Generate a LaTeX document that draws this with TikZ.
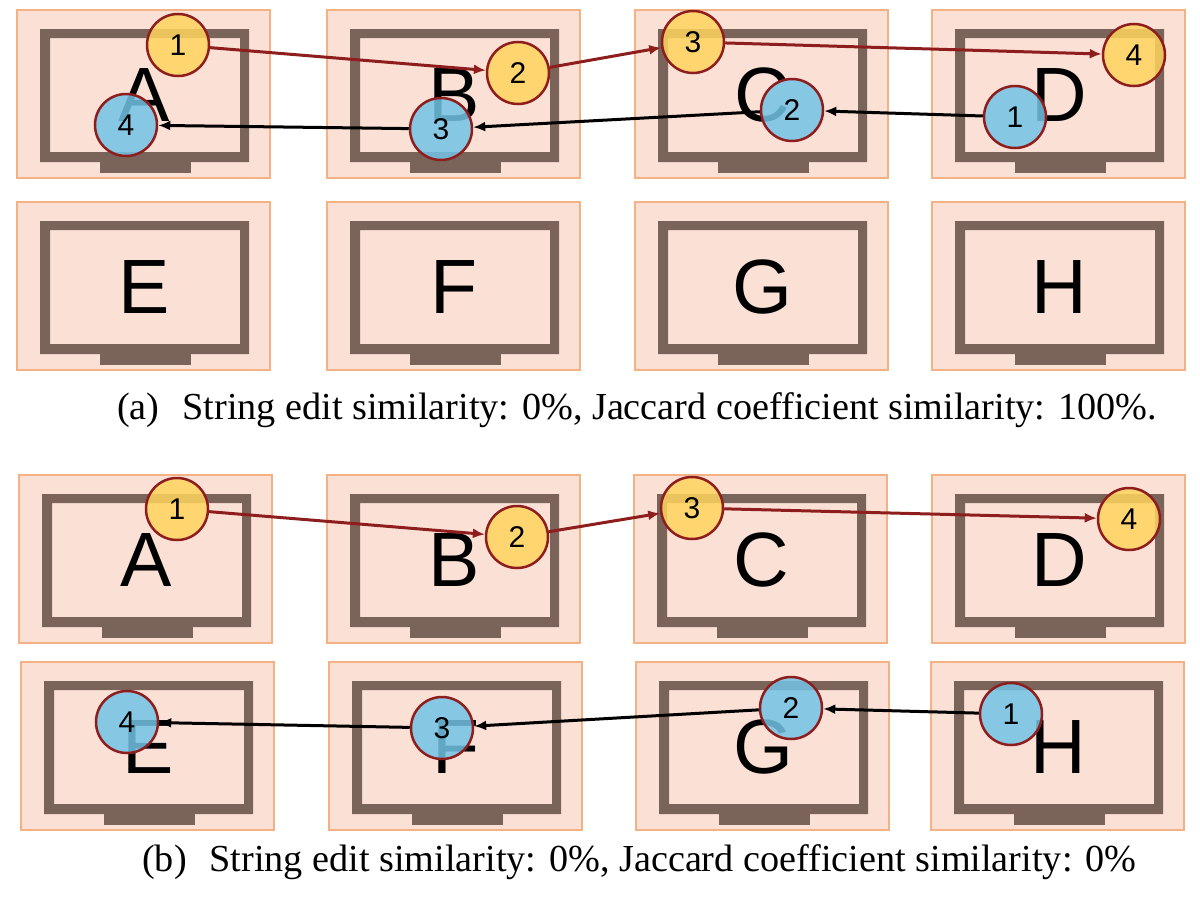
\documentclass[tikz,border=0pt]{standalone}
\usepackage{fontspec}
\setmainfont{Liberation Serif}
\newfontfamily\sansf{Liberation Sans}
\usetikzlibrary{arrows.meta}
\definecolor{panelfill}{HTML}{FBE0D6}
\definecolor{panelline}{HTML}{F4B183}
\definecolor{monitor}{HTML}{7A6358}
\definecolor{gold}{HTML}{FFD45E}
\definecolor{sky}{HTML}{72C4E6}
\definecolor{rim}{HTML}{8E1E1E}
\tikzset{
  panel/.style={fill=panelfill, draw=panelline, line width=1.5pt},
  letter/.style={font=\sansf\fontsize{77}{80}\selectfont, inner sep=0pt},
  visit/.style={circle, minimum size=62pt, inner sep=0pt, draw=rim, line width=2.5pt,
    fill opacity=0.85, text opacity=1, font=\sansf\fontsize{30}{32}\selectfont},
  fwd/.style={visit, fill=gold},
  back/.style={visit, fill=sky},
  redarr/.style={draw=rim, line width=3pt, -{Latex[length=12pt,width=10pt]}},
  blkarr/.style={draw=black, line width=3pt, -{Latex[length=12pt,width=10pt]}},
  caption/.style={font=\fontsize{38.2}{42}\selectfont, anchor=base west, inner sep=0pt}
}
\begin{document}
\begin{tikzpicture}[x=1pt, y=-1pt]
\useasboundingbox (0,0) rectangle (1200,897);
% panels with monitors
\foreach \px/\py/\l/\n in {17/10/A/pA, 327/10/B/pB, 635/10/C/pC, 932/10/D/pD,
                           17/202/E/pE, 327/202/F/pF, 635/202/G/pG, 932/202/H/pH,
                           19/475/A/qA, 327/475/B/qB, 634/475/C/qC, 932/475/D/qD,
                           21/662/E/qE, 329/662/F/qF, 636/662/G/qG, 931/662/H/qH} {
  \begin{scope}[shift={(\px,\py)}]
    \draw[panel] (0,0) rectangle (253,168);
    \fill[monitor, even odd rule] (23,19) rectangle (232,152) (33,28) rectangle (223,142);
    \fill[monitor] (83,152) rectangle (174,163);
    \node[letter] (\n) at (127,85) {\l};
  \end{scope}
}
% (a) circles
\node[fwd] (a1) at (178,45) {1};
\node[fwd] (a2) at (518,73) {2};
\node[fwd] (a3) at (693,42) {3};
\node[fwd] (a4) at (1134,55) {4};
\node[back] (b1) at (1015,117) {1};
\node[back] (b2) at (792,110) {2};
\node[back] (b3) at (441,129) {3};
\node[back] (b4) at (126,125) {4};
\draw[redarr] (a1) -- (a2);
\draw[redarr] (a2) -- (a3);
\draw[redarr] (a3) -- (a4);
\draw[blkarr] (b1) -- (b2);
\draw[blkarr] (b2) -- (b3);
\draw[blkarr] (b3) -- (b4);
% (b) circles
\node[fwd] (c1) at (177,509) {1};
\node[fwd] (c2) at (517,537) {2};
\node[fwd] (c3) at (692,508) {3};
\node[fwd] (c4) at (1129,519) {4};
\node[back] (d1) at (1011,714) {1};
\node[back] (d2) at (791,708) {2};
\node[back] (d3) at (442,728) {3};
\node[back] (d4) at (127,722) {4};
\draw[redarr] (c1) -- (c2);
\draw[redarr] (c2) -- (c3);
\draw[redarr] (c3) -- (c4);
\draw[blkarr] (d1) -- (d2);
\draw[blkarr] (d2) -- (d3);
\draw[blkarr] (d3) -- (d4);
% captions
\node[caption] (capa) at (117,419) {(a)\hspace{0.6em}String edit similarity: 0\%, Jaccard coefficient similarity: 100\%.};
\node[caption] (capb) at (142,871) {(b)\hspace{0.6em}String edit similarity: 0\%, Jaccard coefficient similarity: 0\%};
\end{tikzpicture}
\end{document}
